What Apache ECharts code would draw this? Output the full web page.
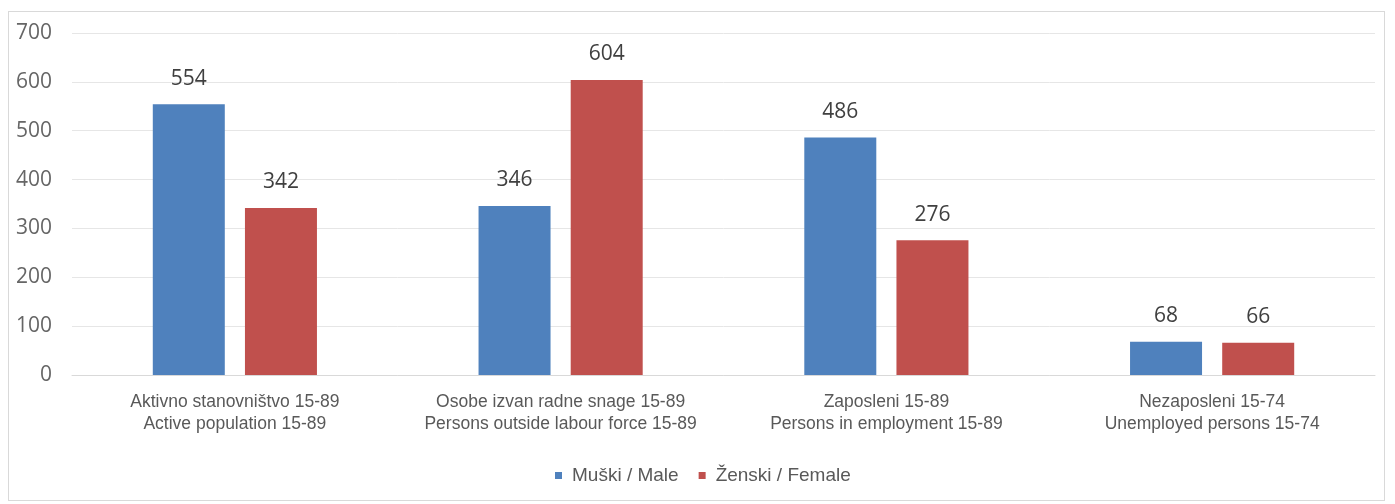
<!DOCTYPE html>
<html><head><meta charset="utf-8">
<script src="https://cdn.jsdelivr.net/npm/echarts@6/dist/echarts.min.js"></script>
<style>html,body{margin:0;padding:0;background:#fff}#c{width:1395px;height:504px}
#frame{position:absolute;left:8px;top:11px;width:1377px;height:490px;border:1px solid #d9d9d9;box-sizing:border-box;pointer-events:none}</style>
</head><body><div id="c"></div><div id="frame"></div>
<script>
const categories = [
  "Aktivno stanovništvo 15-89\nActive population 15-89",
  "Osobe izvan radne snage 15-89\nPersons outside labour force 15-89",
  "Zaposleni 15-89\nPersons in employment 15-89",
  "Nezaposleni 15-74\nUnemployed persons 15-74"
];
const male = [554, 346, 486, 68];
const female = [342, 604, 276, 66];
const seriesNames = ["Muški / Male", "Ženski / Female"];
const yTicks = [0, 700, 100];

const chart = echarts.init(document.getElementById('c'));
const labelStyle = {show:true, position:'top', distance:15, color:'#404040', fontSize:21, fontFamily:'Open Sans'};
chart.setOption({
  animation:false,
  grid:{left:72, right:20, top:33, bottom:129},
  legend:{top:461, left:550, itemWidth:7, itemHeight:7, itemGap:20, icon:'rect',
    textStyle:{color:'#595959', fontSize:19, fontFamily:'Liberation Sans', padding:[0,0,0,5]}, data:seriesNames},
  xAxis:{type:'category', data:categories, axisLine:{lineStyle:{color:'#d9d9d9'}}, axisTick:{show:false},
    axisLabel:{interval:0, hideOverlap:false, color:'#595959', fontSize:17.5, fontFamily:'Liberation Sans', lineHeight:22, margin:16}},
  yAxis:{type:'value', min:yTicks[0], max:yTicks[1], interval:yTicks[2], axisLine:{show:false}, axisTick:{show:false},
    splitLine:{lineStyle:{color:'#e6e6e6'}},
    axisLabel:{color:'#666666', fontSize:21, fontFamily:'Open Sans', margin:20}},
  series:[
    {name:seriesNames[0], type:'bar', data:male, barWidth:72, barGap:'28%', itemStyle:{color:'#4F81BD'}, label:labelStyle},
    {name:seriesNames[1], type:'bar', data:female, barWidth:72, itemStyle:{color:'#C0504D'}, label:labelStyle}
  ]
});
</script></body></html>
